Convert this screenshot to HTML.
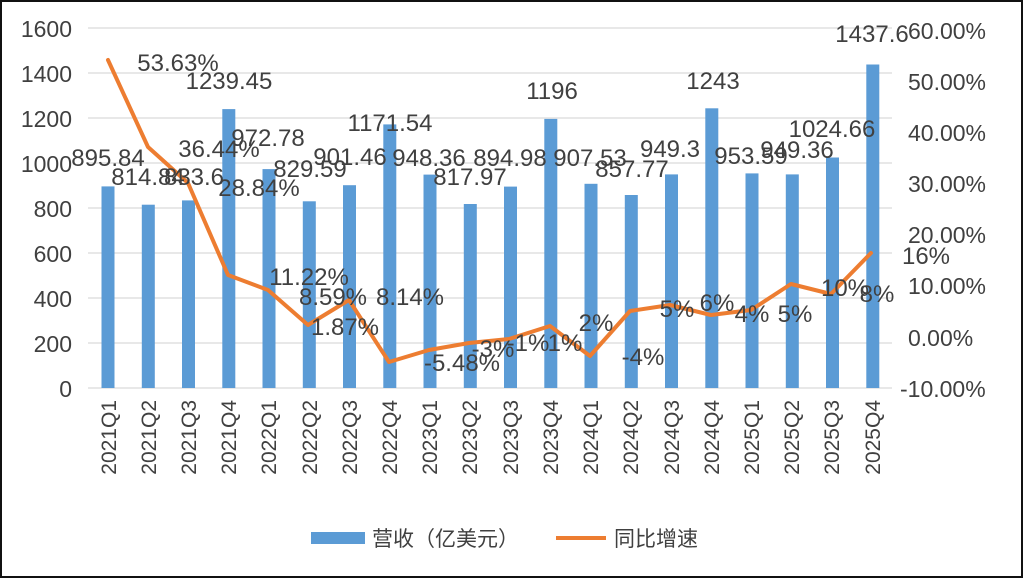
<!DOCTYPE html>
<html><head><meta charset="utf-8"><style>
html,body{margin:0;padding:0;background:#fff}
svg{display:block}
text{font-family:"Liberation Sans","Noto Sans CJK SC",sans-serif;fill:#404040}
</style></head><body>
<svg width="1024" height="579" viewBox="0 0 1024 579" xmlns="http://www.w3.org/2000/svg">
<rect x="0" y="0" width="1024" height="579" fill="#fff"/>
<rect x="1" y="1" width="1021" height="576" fill="none" stroke="#111" stroke-width="2"/>
<g stroke="#d9d9d9" stroke-width="1.2">
<line x1="88" y1="28" x2="892" y2="28"/><line x1="88" y1="73" x2="892" y2="73"/>
<line x1="88" y1="118" x2="892" y2="118"/><line x1="88" y1="163" x2="892" y2="163"/>
<line x1="88" y1="208" x2="892" y2="208"/><line x1="88" y1="253" x2="892" y2="253"/>
<line x1="88" y1="298" x2="892" y2="298"/><line x1="88" y1="343" x2="892" y2="343"/>
<line x1="88" y1="388" x2="892" y2="388"/>
</g>
<g font-size="23" text-anchor="end">
<text x="72" y="37">1600</text><text x="72" y="82">1400</text><text x="72" y="127">1200</text>
<text x="72" y="172">1000</text><text x="72" y="217">800</text><text x="72" y="262">600</text>
<text x="72" y="307">400</text><text x="72" y="352">200</text><text x="72" y="397">0</text>
</g>
<g font-size="23">
<text x="908" y="39">60.00%</text><text x="908" y="90">50.00%</text><text x="908" y="141">40.00%</text>
<text x="908" y="192">30.00%</text><text x="908" y="243">20.00%</text><text x="908" y="294">10.00%</text>
<text x="908" y="346">0.00%</text><text x="900" y="397">-10.00%</text>
</g>
<g fill="#5b9bd5">
<rect x="101.5" y="186.4" width="13" height="201.6"/>
<rect x="141.8" y="204.7" width="13" height="183.3"/>
<rect x="182" y="200.4" width="13" height="187.6"/>
<rect x="222.3" y="109.1" width="13" height="278.9"/>
<rect x="262.5" y="169.1" width="13" height="218.9"/>
<rect x="302.8" y="201.3" width="13" height="186.7"/>
<rect x="343" y="185.2" width="13" height="202.8"/>
<rect x="383.3" y="124.4" width="13" height="263.6"/>
<rect x="423.5" y="174.6" width="13" height="213.4"/>
<rect x="463.8" y="204" width="13" height="184"/>
<rect x="504" y="186.6" width="13" height="201.4"/>
<rect x="544.3" y="118.9" width="13" height="269.1"/>
<rect x="584.5" y="183.8" width="13" height="204.2"/>
<rect x="624.8" y="195" width="13" height="193"/>
<rect x="665" y="174.4" width="13" height="213.6"/>
<rect x="705.3" y="108.3" width="13" height="279.7"/>
<rect x="745.5" y="173.4" width="13" height="214.6"/>
<rect x="785.8" y="174.4" width="13" height="213.6"/>
<rect x="826" y="157.5" width="13" height="230.5"/>
<rect x="866.3" y="64.5" width="13" height="323.5"/>
</g>
<polyline fill="none" stroke="#ed7d31" stroke-width="4" stroke-linejoin="round" stroke-linecap="round"
points="108,60 148,147 188,183 228,275 268,290 308,325 349,300 389,362 429,350 469,343 509,339 550,326 590,356 630,311 670,305 711,315 751,310 791,284 831,294 871,253"/>
<g font-size="24" text-anchor="middle">
<text x="108" y="166">895.84</text><text x="148" y="185">814.84</text><text x="194" y="185">833.6</text>
<text x="229" y="89">1239.45</text><text x="178" y="71">53.63%</text><text x="219" y="157">36.44%</text>
<text x="268" y="146">972.78</text><text x="259" y="196">28.84%</text><text x="310" y="177">829.59</text>
<text x="350" y="165">901.46</text><text x="309" y="285">11.22%</text><text x="333" y="305">8.59%</text>
<text x="345" y="335">1.87%</text><text x="410" y="305">8.14%</text><text x="390" y="131">1171.54</text>
<text x="429" y="166">948.36</text><text x="470" y="185">817.97</text><text x="510" y="166">894.98</text>
<text x="462" y="371">-5.48%</text><text x="493" y="357">-3%</text><text x="528" y="351">-1%</text>
<text x="565" y="351">1%</text><text x="552" y="99">1196</text><text x="590" y="166">907.53</text>
<text x="632" y="177">857.77</text><text x="596" y="331">2%</text><text x="643" y="365">-4%</text>
<text x="670" y="157">949.3</text><text x="677" y="317">5%</text><text x="717" y="311">6%</text>
<text x="713" y="89">1243</text><text x="751" y="164">953.59</text><text x="797" y="158">949.36</text>
<text x="832" y="137">1024.66</text><text x="752" y="322">4%</text><text x="795" y="322">5%</text>
<text x="845" y="296">10%</text><text x="877" y="302">8%</text><text x="926" y="264">16%</text>
<text x="872" y="42">1437.6</text>
</g>
<g font-size="21" text-anchor="end">
<text transform="translate(116,400) rotate(-90)">2021Q1</text>
<text transform="translate(156,400) rotate(-90)">2021Q2</text>
<text transform="translate(196,400) rotate(-90)">2021Q3</text>
<text transform="translate(236,400) rotate(-90)">2021Q4</text>
<text transform="translate(276,400) rotate(-90)">2022Q1</text>
<text transform="translate(317,400) rotate(-90)">2022Q2</text>
<text transform="translate(357,400) rotate(-90)">2022Q3</text>
<text transform="translate(397,400) rotate(-90)">2022Q4</text>
<text transform="translate(437,400) rotate(-90)">2023Q1</text>
<text transform="translate(477,400) rotate(-90)">2023Q2</text>
<text transform="translate(518,400) rotate(-90)">2023Q3</text>
<text transform="translate(558,400) rotate(-90)">2023Q4</text>
<text transform="translate(598,400) rotate(-90)">2024Q1</text>
<text transform="translate(638,400) rotate(-90)">2024Q2</text>
<text transform="translate(679,400) rotate(-90)">2024Q3</text>
<text transform="translate(719,400) rotate(-90)">2024Q4</text>
<text transform="translate(759,400) rotate(-90)">2025Q1</text>
<text transform="translate(799,400) rotate(-90)">2025Q2</text>
<text transform="translate(839,400) rotate(-90)">2025Q3</text>
<text transform="translate(880,400) rotate(-90)">2025Q4</text>
</g>
<rect x="311" y="532" width="54" height="12" fill="#5b9bd5"/>
<text x="372" y="546" font-size="21">营收（亿美元）</text>
<line x1="556" y1="538" x2="606" y2="538" stroke="#ed7d31" stroke-width="4"/>
<text x="614" y="546" font-size="21">同比增速</text>
</svg>
</body></html>
